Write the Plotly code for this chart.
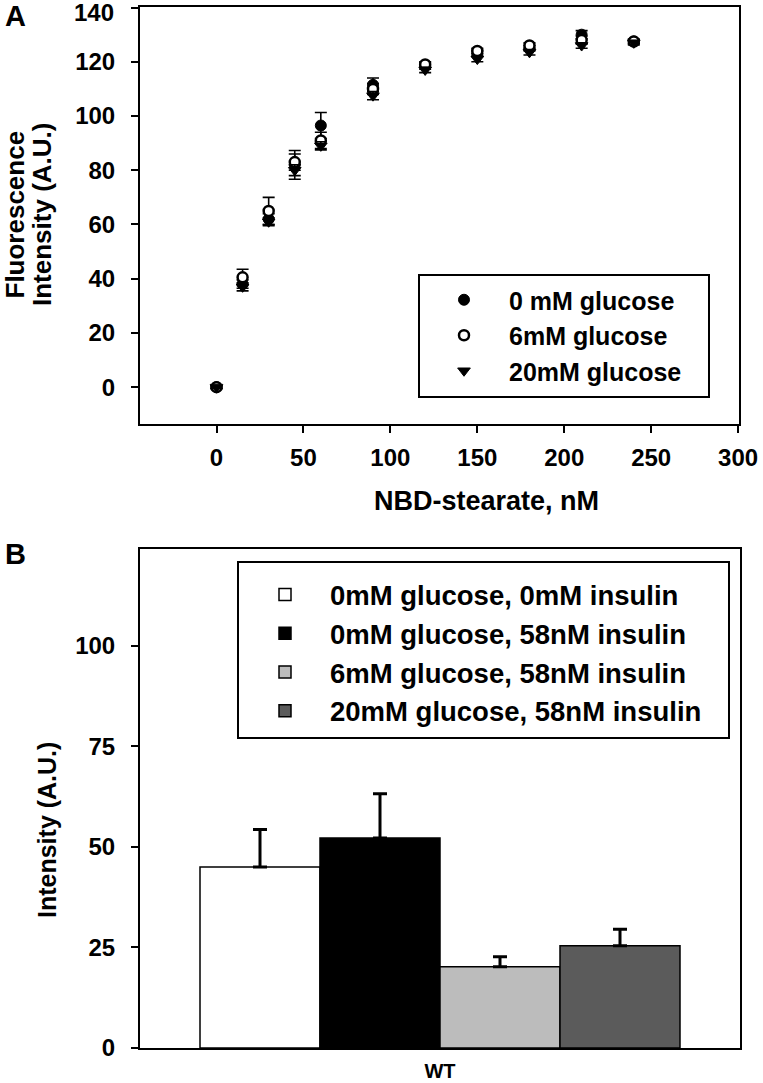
import plotly.graph_objects as go

# ---------------- data ----------------
# Panel A: NBD-stearate titration
nbd_nM = [0, 15, 30, 45, 60, 90, 120, 150, 180, 210, 240]
glc0_mean = [0, 38, 62, 82, 96.5, 111.5, 118.5, 123, 125, 130, 127.5]
glc0_err = [0.5, 1.5, 2, 5.3, 4.8, 2.5, 1.2, 1.0, 1.0, 1.5, 0.8]
glc6_mean = [0, 40.5, 65, 83, 91, 110, 119, 124, 126, 128, 127.5]
glc6_err = [0.5, 3, 5, 3, 3, 2, 1, 1, 1, 1.5, 0.8]
glc20_mean = [0, 37, 61, 80, 89, 107.5, 117, 121, 123.5, 126, 127]
glc20_err = [0.5, 1.5, 1.5, 2, 1.5, 1.5, 1, 1, 1, 1, 0.8]
series_a_names = ["0 mM glucose", "6mM glucose", "20mM glucose"]

x_ticks_a = [0, 50, 100, 150, 200, 250, 300]
y_ticks_a = [0, 20, 40, 60, 80, 100, 120, 140]
y_ticklabels_a = ["0", "20", "40", "60", "80", "100", "120", "140"]

# Panel B: bar chart
bar_category = ["WT"]
bar_names = ["0mM glucose, 0mM insulin", "0mM glucose, 58nM insulin",
             "6mM glucose, 58nM insulin", "20mM glucose, 58nM insulin"]
bar_values = [45, 52.2, 20.2, 25.4]
bar_errors = [9.3, 11, 2.5, 4.1]
bar_colors = ["#ffffff", "#000000", "#bcbcbc", "#5b5b5b"]
y_ticks_b = [0, 25, 50, 75, 100]

# ---------------- layout helpers ----------------
W, H = 763, 1083
def px(x):
    return x / W
def py(y):
    return 1 - y / H

FONT = "Liberation Sans, Arial, Helvetica, sans-serif"
TICKFONT = dict(family=FONT, size=24, color="black", weight="bold")

fig = go.Figure()

# Panel A traces (drawing order: 0 mM, 6 mM, 20 mM)
fig.add_trace(go.Scatter(
    x=nbd_nM, y=glc0_mean, name=series_a_names[0], mode="markers",
    marker=dict(symbol="circle", size=11, color="black", line=dict(color="black", width=1)),
    error_y=dict(type="data", array=glc0_err, color="black", thickness=1.6, width=6),
    xaxis="x", yaxis="y", legend="legend",
))
fig.add_trace(go.Scatter(
    x=nbd_nM, y=glc6_mean, name=series_a_names[1], mode="markers",
    marker=dict(symbol="circle", size=10, color="white", line=dict(color="black", width=2.5)),
    error_y=dict(type="data", array=glc6_err, color="black", thickness=1.6, width=6),
    xaxis="x", yaxis="y", legend="legend",
))
fig.add_trace(go.Scatter(
    x=nbd_nM, y=glc20_mean, name=series_a_names[2], mode="markers",
    marker=dict(symbol="triangle-down", size=11, color="black", line=dict(color="black", width=1)),
    error_y=dict(type="data", array=glc20_err, color="black", thickness=1.6, width=6),
    xaxis="x", yaxis="y", legend="legend",
))

# Panel B traces
for name, val, err, col in zip(bar_names, bar_values, bar_errors, bar_colors):
    fig.add_trace(go.Bar(
        x=bar_category, y=[val], name=name,
        marker=dict(color=col, line=dict(color="black", width=1.5)),
        error_y=dict(type="data", array=[err], arrayminus=[0], symmetric=False,
                     color="black", thickness=3, width=7),
        xaxis="x2", yaxis="y2", legend="legend2",
    ))

axis_common = dict(showgrid=False, zeroline=False, showline=True, linecolor="black",
                   linewidth=2, mirror=True, ticks="outside", ticklen=7, tickwidth=2,
                   tickcolor="black", automargin=False, tickfont=TICKFONT)

# the top tick label of panel A sits at the very edge of the page; it is drawn
# as an annotation tied to the y axis so that it is not hidden by the renderer
ytext_a = y_ticklabels_a[:-1] + [""]

fig.update_layout(
    width=W, height=H,
    margin=dict(l=0, r=0, t=0, b=0),
    paper_bgcolor="white", plot_bgcolor="white",
    barmode="group", bargap=0.2, bargroupgap=0,
    xaxis=dict(domain=[px(140), px(739)], range=[-44, 300.5], tickvals=x_ticks_a,
               anchor="y", ticklabelstandoff=4, **axis_common),
    yaxis=dict(domain=[py(424), py(6.5)], range=[-13.6, 140.4], tickvals=y_ticks_a,
               ticktext=ytext_a, anchor="x", ticklabelstandoff=11, **axis_common),
    xaxis2=dict(domain=[px(140), px(740)], anchor="y2", ticklabelstandoff=4,
                **{**axis_common, "ticks": "",
                   "tickfont": dict(family=FONT, size=20, color="black", weight="bold")}),
    yaxis2=dict(domain=[py(1048), py(549)], range=[0, 124], tickvals=y_ticks_b,
                anchor="x2", ticklabelstandoff=11, **axis_common),
    legend=dict(x=px(419), y=py(277), xanchor="left", yanchor="top",
                borderwidth=0, bgcolor="rgba(0,0,0,0)",
                itemwidth=80, tracegroupgap=0, traceorder="normal",
                font=dict(family=FONT, size=25, color="black", weight="bold")),
    legend2=dict(x=px(240), y=py(570), xanchor="left", yanchor="top",
                 borderwidth=0, bgcolor="rgba(0,0,0,0)",
                 itemwidth=80, tracegroupgap=0, traceorder="normal",
                 font=dict(family=FONT, size=27.5, color="black", weight="bold")),
    showlegend=True,
)

# Legend frames (decoration around the legends)
fig.update_layout(shapes=[
    dict(type="rect", xref="paper", yref="paper", x0=px(419), x1=px(709), y0=py(397), y1=py(275),
         line=dict(color="black", width=2), layer="below"),
    dict(type="rect", xref="paper", yref="paper", x0=px(238), x1=px(729), y0=py(738), y1=py(562),
         line=dict(color="black", width=2), layer="below"),
])

title_font = dict(family=FONT, size=26, color="black", weight="bold")
annotations = [
    dict(text="Fluorescence", x=px(14.5), y=py(215), textangle=-90, font=title_font),
    dict(text="Intensity (A.U.)", x=px(42), y=py(215), textangle=-90, font=title_font),
    dict(text="NBD-stearate, nM", x=px(486), y=py(501), font=dict(family=FONT, size=27, color="black", weight="bold")),
    dict(text="Intensity (A.U.)", x=px(47), y=py(830), textangle=-90,
         font=dict(family=FONT, size=25, color="black", weight="bold")),
    dict(text="A", x=px(15), y=py(16), font=dict(family=FONT, size=29, color="black", weight="bold")),
    dict(text="B", x=px(15), y=py(554), font=dict(family=FONT, size=29, color="black", weight="bold")),
]
for a in annotations:
    a.update(xref="paper", yref="paper", showarrow=False, xanchor="center", yanchor="middle")
# top y tick label of panel A, placed at its tick value on the y axis
annotations.append(dict(text=y_ticklabels_a[-1], xref="paper", yref="y", x=px(116), y=y_ticks_a[-1],
                        xanchor="right", yanchor="middle", yshift=-5, showarrow=False,
                        font=TICKFONT))
fig.update_layout(annotations=annotations)

# remove the default page margin so the figure fills the 763x1083 window exactly
fig.write_html("out.html",
               config={"displayModeBar": False},
               post_script="document.body.style.margin='0px';document.body.style.overflow='hidden';")
